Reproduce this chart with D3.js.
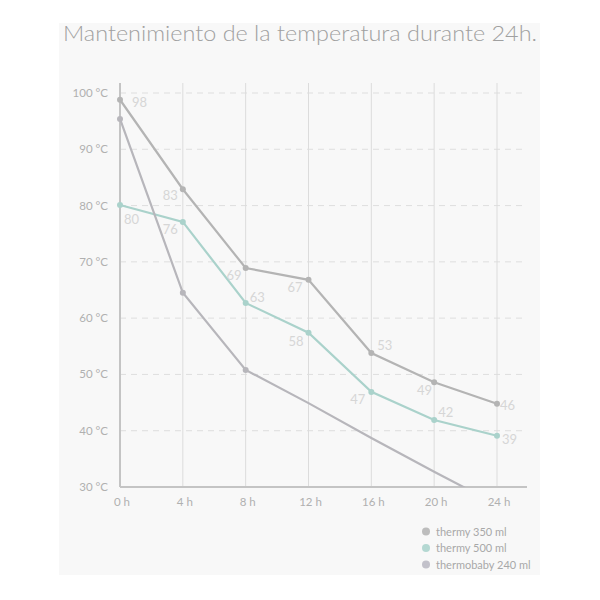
<!DOCTYPE html>
<html>
<head>
<meta charset="utf-8">
<script src="https://cdn.jsdelivr.net/npm/d3@7"></script>
<style>
  body { margin: 0; background: #fff; }
  text { font-family: Lato, "Noto Sans", sans-serif; }
</style>
</head>
<body>
<div id="chart"></div>
<script>
// hours on the x axis
let hours = [0, 4, 8, 12, 16, 20, 24];
let xTickLabels = ["0 h", "4 h", "8 h", "12 h", "16 h", "20 h", "24 h"];
let yTicks = [30, 40, 50, 60, 70, 80, 90, 100];

// series values as drawn
let thermy350 = [98.8, 82.9, 68.9, 66.8, 53.8, 48.6, 44.8];
let thermy500 = [80.1, 77.1, 62.7, 57.4, 46.9, 41.9, 39.1];
let thermobaby240 = [95.4, 64.5, 50.8, 44.9, 38.7, 32.7, 26.9];

// printed labels
let labels350 = ["98", "83", "69", "67", "53", "49", "46"];
let labels500 = ["80", "76", "63", "58", "47", "42", "39"];

let seriesNames = ["thermy 350 ml", "thermy 500 ml", "thermobaby 240 ml"];

let W = 600, H = 600;
let svg = d3.select("#chart").append("svg")
  .attr("width", W).attr("height", H);

// light panel
svg.append("rect")
  .attr("x", 59).attr("y", 23)
  .attr("width", 481).attr("height", 552)
  .attr("fill", "#f8f8f8");

svg.append("text")
  .attr("x", 63).attr("y", 41)
  .attr("textLength", 474)
  .attr("lengthAdjust", "spacingAndGlyphs")
  .style("font-size", "21px")
  .style("font-weight", 300)
  .attr("fill", "#a0a0a0")
  .text("Mantenimiento de la temperatura durante 24h.");

let x = d3.scaleLinear().domain([0, 24]).range([120, 497]);
let y = d3.scaleLinear().domain([30, 100]).range([487, 93]);

// horizontal dashed grid
svg.append("g").selectAll("line")
  .data(yTicks.slice(1))
  .enter().append("line")
    .attr("x1", x(0)).attr("x2", 527)
    .attr("y1", d => y(d)).attr("y2", d => y(d))
    .style("stroke", "#dedede")
    .style("stroke-width", 1)
    .style("stroke-dasharray", "6,5");

// vertical grid
svg.append("g").selectAll("line")
  .data(hours.slice(1))
  .enter().append("line")
    .attr("x1", d => x(d)).attr("x2", d => x(d))
    .attr("y1", 83).attr("y2", y(30))
    .style("stroke", "#dcdcdc")
    .style("stroke-width", 1);

// axes lines
svg.append("line")
  .attr("x1", x(0)).attr("x2", x(0)).attr("y1", 83).attr("y2", y(30))
  .style("stroke", "#c4c4c4").style("stroke-width", 2);
svg.append("line")
  .attr("x1", x(0)).attr("x2", 527).attr("y1", y(30)).attr("y2", y(30))
  .style("stroke", "#c4c4c4").style("stroke-width", 2);

// tick labels
svg.append("g").selectAll("text")
  .data(yTicks)
  .enter().append("text")
    .attr("x", 108).attr("y", d => y(d) + 4)
    .attr("text-anchor", "end")
    .style("font-size", "11.5px")
    .attr("fill", "#b0b0b0")
    .text(d => d + " °C");

svg.append("g").selectAll("text")
  .data(hours)
  .enter().append("text")
    .attr("x", d => x(d) + 2).attr("y", 506)
    .attr("text-anchor", "middle")
    .style("font-size", "11.5px")
    .attr("fill", "#b0b0b0")
    .text((d, i) => xTickLabels[i]);

// clip the lines to the plot area
svg.append("clipPath").attr("id", "plotclip")
  .append("rect").attr("x", 110).attr("y", 70).attr("width", 430).attr("height", y(30) - 70);

let line = d3.line()
  .x((d, i) => x(hours[i]))
  .y(d => y(d));

let colors = ["#b4b4b4", "#aad2cb", "#b7b6bb"];
let series = [thermy350, thermy500, thermobaby240];
// which points carry a marker
let markerCount = [7, 7, 3];

series.forEach((s, k) => {
  svg.append("path")
    .datum(s)
    .attr("clip-path", "url(#plotclip)")
    .attr("fill", "none")
    .attr("stroke", colors[k])
    .attr("stroke-width", 2.2)
    .attr("d", line);
  svg.append("g").selectAll("circle")
    .data(s.slice(0, markerCount[k]))
    .enter().append("circle")
      .attr("cx", (d, i) => x(hours[i]))
      .attr("cy", d => y(d))
      .attr("r", 3)
      .attr("fill", colors[k]);
});

// label nudges from the point (positive dx = text starts right of point)
let off350 = [[12, 7], [-5, 11], [-4, 12], [-6, 12], [6, -3], [-2, 13], [3, 6]];
let off500 = [[4, 19], [-5, 12], [4, -1], [-5, 13], [-6, 12], [4, -3], [5, 8]];

function placeLabels(vals, texts, off) {
  svg.append("g").selectAll("text")
    .data(vals)
    .enter().append("text")
      .attr("x", (d, i) => x(hours[i]) + off[i][0])
      .attr("y", (d, i) => y(d) + off[i][1])
      .attr("text-anchor", (d, i) => off[i][0] > 0 ? "start" : "end")
      .style("font-size", "13px")
      .attr("fill", "#d6d6d6")
      .text((d, i) => texts[i]);
}
placeLabels(thermy350, labels350, off350);
placeLabels(thermy500, labels500, off500);

// legend
let legendColors = ["#bdbdbd", "#b4d8d2", "#c2c1ca"];
let legend = svg.append("g").selectAll("g")
  .data(seriesNames)
  .enter().append("g")
    .attr("transform", (d, i) => "translate(426," + (531.5 + i * 16.5) + ")");
legend.append("circle").attr("r", 4).attr("fill", (d, i) => legendColors[i]);
legend.append("text")
  .attr("x", 10).attr("y", 4)
  .style("font-size", "11px")
  .attr("fill", "#a8a8a8")
  .text(d => d);
</script>
</body>
</html>
